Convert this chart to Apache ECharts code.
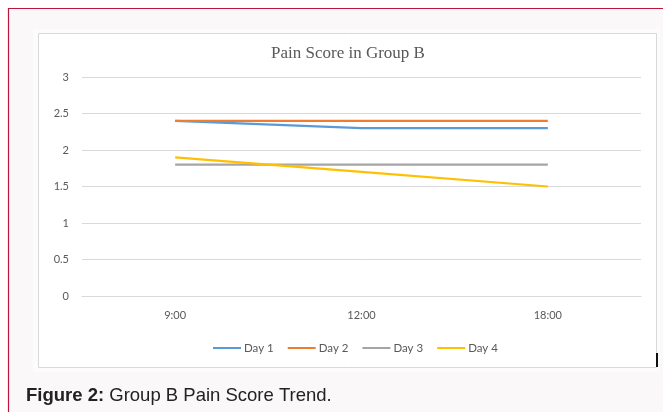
<!DOCTYPE html>
<html>
<head>
    <meta charset="UTF-8">
    <title>Pain Score in Group B</title>
    <script src="https://cdn.jsdelivr.net/npm/echarts@6/dist/echarts.min.js"></script>
    <style>
        html, body { margin: 0; padding: 0; background: #fff; }
    </style>
</head>
<body>
<div id="main" style="width: 663px;height:412px;"></div>
<script type="text/javascript">
    // data
    var times = ['9:00', '12:00', '18:00'];
    var day1 = [2.4, 2.3, 2.3];
    var day2 = [2.4, 2.4, 2.4];
    var day3 = [1.8, 1.8, 1.8];
    var day4 = [1.9, 1.7, 1.5];
    var seriesNames = ['Day 1', 'Day 2', 'Day 3', 'Day 4'];
    var seriesColors = ['#5B9BD5', '#ED7D31', '#A5A5A5', '#FFC000'];

    var myChart = echarts.init(document.getElementById('main'));

    var allData = [day1, day2, day3, day4];
    var series = allData.map(function (d, i) {
        return {
            name: seriesNames[i],
            type: 'line',
            symbol: 'none',
            color: seriesColors[i],
            lineStyle: { width: 2.25 },
            data: d
        };
    });

    var labelFont = 'Lato, "Open Sans", sans-serif';

    var option = {
        animation: false,
        backgroundColor: '#fff',
        title: {
            text: 'Pain Score in Group B',
            left: 266,
            top: 40,
            textStyle: {
                fontFamily: '"Liberation Serif", serif',
                fontWeight: 'normal',
                fontSize: 17,
                color: '#595959'
            }
        },
        legend: {
            data: seriesNames,
            icon: 'rect',
            left: 208,
            top: 337,
            itemWidth: 28,
            itemHeight: 2,
            itemGap: 14,
            textStyle: { fontFamily: labelFont, fontSize: 11.5, color: '#595959', padding: [0, 0, 0, -2] }
        },
        grid: { left: 82, right: 22, top: 77, bottom: 116 },
        xAxis: {
            type: 'category',
            boundaryGap: true,
            data: times,
            axisLine: { lineStyle: { color: '#d9d9d9', width: 1 } },
            axisTick: { show: false },
            axisLabel: { margin: 14, fontFamily: labelFont, fontSize: 11, color: '#595959' }
        },
        yAxis: {
            type: 'value',
            min: 0,
            max: 3,
            interval: 0.5,
            axisLine: { show: false },
            axisTick: { show: false },
            splitLine: { lineStyle: { color: '#d9d9d9', width: 1 } },
            axisLabel: { margin: 13, fontFamily: labelFont, fontSize: 11, color: '#595959' }
        },
        graphic: [
            {
                type: 'rect', z: -10, silent: true,
                shape: { x: 8.5, y: 8.5, width: 700, height: 500 },
                style: { fill: '#faf8f9', stroke: '#c0143c', lineWidth: 1.2 }
            },
            {
                type: 'rect', z: -9, silent: true,
                shape: { x: 33, y: 29, width: 627, height: 343 },
                style: { fill: '#fdfcfd' }
            },
            {
                type: 'rect', z: -8, silent: true,
                shape: { x: 38.5, y: 33.5, width: 618, height: 334 },
                style: { fill: '#ffffff', stroke: '#d9d9d9', lineWidth: 1 }
            },
            {
                type: 'rect', z: -7, silent: true,
                shape: { x: 656, y: 353, width: 2, height: 14 },
                style: { fill: '#111' }
            },
            {
                type: 'text', z: 5, silent: true,
                x: 26, y: 396,
                style: {
                    text: '{b|Figure 2:} Group B Pain Score Trend.',
                    rich: {
                        b: { fontWeight: 'bold', fontSize: 18.5, fontFamily: '"Liberation Sans", Arial, sans-serif', fill: '#222' }
                    },
                    fontSize: 18.5,
                    fontFamily: '"Liberation Sans", Arial, sans-serif',
                    fill: '#222',
                    verticalAlign: 'middle'
                }
            }
        ],
        series: series
    };

    myChart.setOption(option);
</script>
</body>
</html>
